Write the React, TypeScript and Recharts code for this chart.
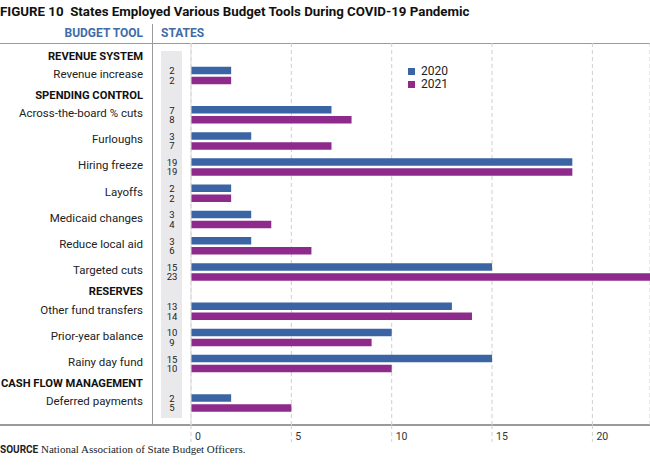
import React from "react";
import { BarChart, Bar, XAxis, YAxis, CartesianGrid, Legend } from "recharts";

const sections = ["REVENUE SYSTEM", "SPENDING CONTROL", "RESERVES", "CASH FLOW MANAGEMENT"];
const tools = [
  "Revenue increase",
  "Across-the-board % cuts",
  "Furloughs",
  "Hiring freeze",
  "Layoffs",
  "Medicaid changes",
  "Reduce local aid",
  "Targeted cuts",
  "Other fund transfers",
  "Prior-year balance",
  "Rainy day fund",
  "Deferred payments",
];
const toolSection = [0, 1, 1, 1, 1, 1, 1, 1, 2, 2, 2, 3];
const states2020 = [2, 7, 3, 19, 2, 3, 3, 15, 13, 10, 15, 2];
const states2021 = [2, 8, 7, 19, 2, 4, 6, 23, 14, 9, 10, 5];
const xTicks = [0, 5, 10, 15, 20];

const BLUE = "#3b64a5";
const PURPLE = "#8e2a8c";
const HEAD_BLUE = "#3f6ca8";
const FONT = "Roboto, 'Liberation Sans', Arial, sans-serif";

type TickInfo = { pos: number; kind: "header" | "row"; label: string; v1?: number; v2?: number };

const data: { pos: number; tool: string; y2020: number; y2021: number }[] = [];
const tickInfos: TickInfo[] = [];
{
  let pos = 0;
  let prev = -1;
  tools.forEach((t, i) => {
    if (toolSection[i] !== prev) {
      if (i > 0) pos += 0.75;
      tickInfos.push({ pos, kind: "header", label: sections[toolSection[i]] });
      prev = toolSection[i];
      pos += 0.75;
    } else {
      pos += 1;
    }
    data.push({ pos, tool: t, y2020: states2020[i], y2021: states2021[i] });
    tickInfos.push({ pos, kind: "row", label: t, v1: states2020[i], v2: states2021[i] });
  });
}
const yTicks = tickInfos.map((t) => t.pos);

const YTick = (props: any) => {
  const { y, payload } = props;
  const info = tickInfos.find((t) => Math.abs(t.pos - payload.value) < 1e-6);
  if (!info) return null;
  if (info.kind === "header") {
    return (
      <text x={143} y={y - 0.5} dy="0.35em" textAnchor="end" fontFamily={FONT} fontWeight={700} fontSize={11.2} fill="#111">
        {info.label}
      </text>
    );
  }
  return (
    <g>
      <text x={143} y={y - 2} dy="0.35em" textAnchor="end" fontFamily={FONT} fontSize={11.5} fill="#222">
        {info.label}
      </text>
      <text x={172} y={y - 4.7} dy="0.35em" textAnchor="middle" fontFamily={FONT} fontSize={9.5} fill="#222">
        {info.v1}
      </text>
      <text x={172} y={y + 4.7} dy="0.35em" textAnchor="middle" fontFamily={FONT} fontSize={9.5} fill="#222">
        {info.v2}
      </text>
    </g>
  );
};

const XTick = (props: any) => {
  const { x, y, payload } = props;
  return (
    <g>
      <line x1={x} x2={x} y1={y} y2={y + 17} stroke="#cfcfcf" strokeDasharray="4 3" />
      <text x={x + 4} y={y + 11} dy="0.35em" textAnchor="start" fontFamily={FONT} fontSize={10.5} fill="#333">
        {payload.value}
      </text>
    </g>
  );
};

const LegendContent = () => (
  <div style={{ fontFamily: FONT, fontSize: 12, color: "#222", lineHeight: "13px" }}>
    {[
      { c: BLUE, l: "2020" },
      { c: PURPLE, l: "2021" },
    ].map((e) => (
      <div key={e.l} style={{ display: "flex", alignItems: "center" }}>
        <span style={{ display: "inline-block", width: 7, height: 7, background: e.c, marginRight: 6 }} />
        <span>{e.l}</span>
      </div>
    ))}
  </div>
);

export default function App() {
  return (
    <div style={{ position: "absolute", left: 0, top: 0, width: 650, height: 474, background: "#fff", overflow: "hidden" }}>
      <div
        style={{
          position: "absolute",
          left: 0,
          top: 4,
          fontFamily: FONT,
          fontWeight: 700,
          fontSize: 13.3,
          lineHeight: "16px",
          color: "#111",
          whiteSpace: "nowrap",
        }}
      >
        FIGURE 10&nbsp;&nbsp;States Employed Various Budget Tools During COVID-19 Pandemic
      </div>
      <div
        style={{
          position: "absolute",
          right: 650 - 143,
          top: 25,
          fontFamily: FONT,
          fontWeight: 700,
          fontSize: 12,
          lineHeight: "16px",
          color: HEAD_BLUE,
          whiteSpace: "nowrap",
        }}
      >
        BUDGET TOOL
      </div>
      <div
        style={{
          position: "absolute",
          left: 161,
          top: 25,
          fontFamily: FONT,
          fontWeight: 700,
          fontSize: 12,
          lineHeight: "16px",
          color: HEAD_BLUE,
          whiteSpace: "nowrap",
        }}
      >
        STATES
      </div>
      <div style={{ position: "absolute", left: 0, top: 43, width: 650, height: 1, background: "#9a9a9a" }} />
      <div style={{ position: "absolute", left: 152, top: 24, width: 1, height: 401, background: "#9a9a9a" }} />
      <div style={{ position: "absolute", left: 161, top: 51, width: 21, height: 367, background: "#e9e9eb" }} />
      <div style={{ position: "absolute", left: 0, top: 424, width: 650, height: 1.5, background: "#9a9a9a" }} />
      <div
        style={{
          position: "absolute",
          left: 0,
          top: 443,
          fontSize: 11,
          lineHeight: "12px",
          color: "#222",
          whiteSpace: "nowrap",
        }}
      >
        <span style={{ fontFamily: FONT, fontWeight: 700, fontSize: 10 }}>SOURCE</span>{" "}
        <span style={{ fontFamily: "'Liberation Serif', 'DejaVu Serif', serif" }}>National Association of State Budget Officers.</span>
      </div>
      <div style={{ position: "absolute", left: 0, top: 0 }}>
        <BarChart
          width={650}
          height={474}
          data={data}
          layout="vertical"
          margin={{ top: 43, right: 0, bottom: 0, left: 0 }}
          barSize={7.5}
          barGap={2.5}
        >
          <CartesianGrid horizontal={false} vertical={true} stroke="#cfcfcf" strokeDasharray="4 3" />
          <XAxis
            type="number"
            domain={[0, 22.87]}
            allowDataOverflow
            ticks={xTicks}
            interval={0}
            height={49}
            axisLine={false}
            tickLine={false}
            tickSize={0}
            tickMargin={0}
            tick={<XTick />}
          />
          <YAxis
            type="number"
            dataKey="pos"
            domain={[-0.5, 14.08]}
            allowDataOverflow
            ticks={yTicks}
            interval={0}
            width={191}
            axisLine={{ stroke: "#dcdcdc" }}
            tickLine={false}
            tick={<YTick />}
          />
          <Legend
            layout="horizontal"
            verticalAlign="middle"
            align="center"
            wrapperStyle={{ left: 408, top: 65, width: 60 }}
            content={<LegendContent />}
          />
          <Bar dataKey="y2020" name="2020" fill={BLUE} isAnimationActive={false} />
          <Bar dataKey="y2021" name="2021" fill={PURPLE} isAnimationActive={false} />
        </BarChart>
      </div>
    </div>
  );
}
